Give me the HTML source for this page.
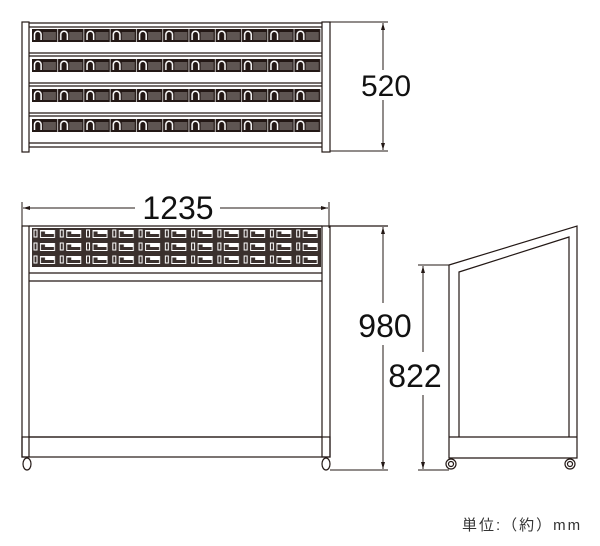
<!DOCTYPE html>
<html><head><meta charset="utf-8"><style>
html,body{margin:0;padding:0;background:#fff;}
svg{display:block;}
</style></head><body>
<svg width="600" height="546" viewBox="0 0 600 546" xmlns="http://www.w3.org/2000/svg">
<defs>
<pattern id="tb" x="32" y="29" width="26.27" height="30" patternUnits="userSpaceOnUse">
  <rect x="0" y="0" width="26.27" height="13" fill="#231815"/>
  <path d="M2.5 11 V5.5 a3.3 3.3 0 0 1 6.6 0 V11" fill="none" stroke="#fff" stroke-width="1.5"/>
  <rect x="11" y="3" width="13" height="8" fill="#5e5552"/>
  <line x1="25.6" y1="0" x2="25.6" y2="13" stroke="#fff" stroke-width="0.7"/>
</pattern>
<pattern id="fb" x="32" y="228" width="26.27" height="13" patternUnits="userSpaceOnUse">
  <rect x="0" y="0" width="26.27" height="13" fill="#3a302d"/>
  <rect x="1.5" y="1.5" width="4" height="8" fill="#fff"/>
  <rect x="2.5" y="2.5" width="2" height="6" fill="#3a302d"/>
  <rect x="8" y="2" width="15" height="8" fill="#fff"/>
  <rect x="9" y="6" width="13" height="3" fill="#3a302d"/>
  <rect x="9" y="3.5" width="4" height="2.5" fill="#3a302d"/>
</pattern>
</defs>
<g stroke="#231815" stroke-width="1.2" fill="none">
<rect x="22" y="22" width="7" height="130"/>
<rect x="322" y="22" width="8" height="130"/>
<line x1="29" y1="23" x2="322" y2="23"/>
<line x1="29" y1="27" x2="322" y2="27"/>
<line x1="29" y1="53" x2="322" y2="53"/><line x1="29" y1="56" x2="322" y2="56"/>
<line x1="29" y1="83" x2="322" y2="83"/><line x1="29" y1="86" x2="322" y2="86"/>
<line x1="29" y1="113" x2="322" y2="113"/><line x1="29" y1="116" x2="322" y2="116"/>
<line x1="29" y1="143" x2="322" y2="143"/><line x1="29" y1="147" x2="322" y2="147"/>
</g>
<rect x="32" y="29" width="289" height="13" fill="url(#tb)"/>
<rect x="32" y="59" width="289" height="13" fill="url(#tb)"/>
<rect x="32" y="89" width="289" height="13" fill="url(#tb)"/>
<rect x="32" y="119" width="289" height="13" fill="url(#tb)"/>
<g stroke="#231815" stroke-width="1" fill="none">
<line x1="330" y1="22" x2="388" y2="22"/>
<line x1="330" y1="151" x2="388" y2="151"/>
<line x1="383" y1="23" x2="383" y2="70"/>
<line x1="383" y1="100" x2="383" y2="150"/>
</g>
<path d="M383 23 l-2 7 h4z M383 150 l-2 -7 h4z" fill="#231815"/>
<text x="386" y="96" font-family="Liberation Sans, sans-serif" font-size="30" text-anchor="middle" fill="#111">520</text>

<g stroke="#231815" stroke-width="1" fill="none">
<line x1="22" y1="202" x2="22" y2="228"/>
<line x1="329" y1="202" x2="329" y2="228"/>
<line x1="23" y1="208" x2="135" y2="208"/>
<line x1="220" y1="208" x2="328" y2="208"/>
</g>
<path d="M23 208 l7 -2 v4z M328 208 l-7 -2 v4z" fill="#231815"/>
<text x="178" y="219" font-family="Liberation Sans, sans-serif" font-size="32" text-anchor="middle" fill="#111">1235</text>
<g stroke="#231815" stroke-width="1.2" fill="none">
<rect x="22" y="226" width="7" height="231"/>
<rect x="322" y="226" width="8" height="231"/>
<line x1="29" y1="226" x2="322" y2="226"/>
<line x1="330" y1="226" x2="388" y2="226"/>
<line x1="29" y1="273" x2="322" y2="273"/>
<line x1="29" y1="281" x2="322" y2="281"/>
<line x1="29" y1="437" x2="322" y2="437"/>
<rect x="22" y="437" width="308" height="20"/>
</g>
<rect x="32" y="228" width="289" height="39" fill="url(#fb)"/>
<g stroke="#231815" stroke-width="1.2" fill="#fff">
<ellipse cx="27" cy="464" rx="4" ry="6"/>
<ellipse cx="326" cy="464" rx="4" ry="6"/>
</g>
<g stroke="#231815" stroke-width="1" fill="none">
<line x1="330" y1="470" x2="388" y2="470"/>
<line x1="383" y1="227" x2="383" y2="303"/>
<line x1="383" y1="345" x2="383" y2="469"/>
<line x1="418" y1="265" x2="449" y2="265"/>
<line x1="418" y1="470" x2="449" y2="470"/>
<line x1="423" y1="266" x2="423" y2="352"/>
<line x1="423" y1="395" x2="423" y2="469"/>
</g>
<path d="M383 227 l-2 7 h4z M383 469 l-2 -7 h4z M423 266 l-2 7 h4z M423 469 l-2 -7 h4z" fill="#231815"/>
<text x="385" y="337" font-family="Liberation Sans, sans-serif" font-size="32" text-anchor="middle" fill="#111">980</text>
<text x="415" y="387" font-family="Liberation Sans, sans-serif" font-size="32" text-anchor="middle" fill="#111">822</text>

<g stroke="#231815" stroke-width="1.2" fill="none">
<path d="M449 458 V265 L577 226 V458 Z"/>
<path d="M459 437 V272 L569 237 V437"/>
<line x1="449" y1="437" x2="577" y2="437"/>
</g>
<g stroke="#231815" stroke-width="1.2" fill="#fff">
<circle cx="451" cy="464" r="5"/><circle cx="451" cy="464" r="2.5"/>
<circle cx="570" cy="464" r="5"/><circle cx="570" cy="464" r="2.5"/>
</g>

<text x="462" y="530" font-family="Liberation Sans, 'Noto Sans CJK JP', sans-serif" font-size="15" fill="#333" letter-spacing="2">単位:（約）mm</text>
</svg>
</body></html>
